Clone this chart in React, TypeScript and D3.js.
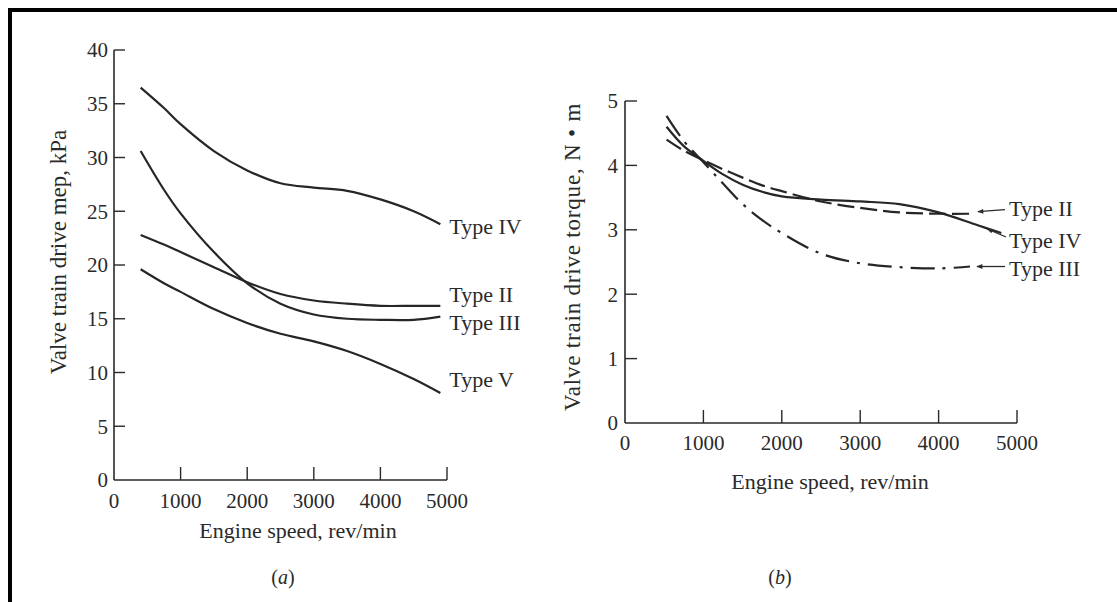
import React from "react";
import * as d3 from "d3";

// ---------- Data: panel (a) valve train drive mep, kPa ----------
const rpmA = [400, 750, 1000, 1500, 2000, 2500, 3000, 3500, 4000, 4500, 4900];
const mepTypeIV = [36.5, 34.6, 33.1, 30.6, 28.8, 27.6, 27.2, 26.9, 26.1, 25.0, 23.8];
const mepTypeII = [22.8, 21.9, 21.2, 19.8, 18.4, 17.3, 16.7, 16.4, 16.2, 16.2, 16.2];
const mepTypeIII = [30.6, 27.0, 24.8, 21.2, 18.3, 16.4, 15.4, 15.0, 14.9, 14.9, 15.2];
const mepTypeV = [19.6, 18.3, 17.5, 15.9, 14.6, 13.6, 12.9, 12.0, 10.8, 9.4, 8.1];

// ---------- Data: panel (b) valve train drive torque, N·m ----------
const rpmB_IV = [530, 750, 1000, 1250, 1500, 1750, 2000, 2500, 3000, 3500, 4000, 4500, 4800];
const torqueTypeIV = [4.6, 4.3, 4.07, 3.86, 3.7, 3.59, 3.52, 3.47, 3.44, 3.4, 3.27, 3.07, 2.95];
const rpmB_II = [530, 750, 1000, 1250, 1500, 1750, 2000, 2500, 3000, 3500, 4000, 4450];
const torqueTypeII = [4.4, 4.23, 4.08, 3.94, 3.81, 3.69, 3.6, 3.44, 3.34, 3.27, 3.25, 3.25];
const rpmB_III = [530, 750, 1000, 1250, 1500, 1750, 2000, 2500, 3000, 3500, 4000, 4400];
const torqueTypeIII = [4.77, 4.38, 4.05, 3.72, 3.4, 3.15, 2.95, 2.63, 2.48, 2.42, 2.4, 2.43];

const xTicks = [0, 1000, 2000, 3000, 4000, 5000];
const yTicksA = [0, 5, 10, 15, 20, 25, 30, 35, 40];
const yTicksB = [0, 1, 2, 3, 4, 5];

const FONT = "'Liberation Serif', 'DejaVu Serif', serif";
const INK = "#2a2a2a";
const LINE = "#262626";

type Pt = [number, number];
const zip = (xs: number[], ys: number[]): Pt[] => xs.map((x, i) => [x, ys[i]]);

export default function App() {
  const W = 1117;
  const H = 602;

  const xA = d3.scaleLinear().domain([0, 5000]).range([114, 447]);
  const yA = d3.scaleLinear().domain([0, 40]).range([480, 50]);
  const xB = d3.scaleLinear().domain([0, 5000]).range([625, 1017]);
  const yB = d3.scaleLinear().domain([0, 5]).range([423, 101]);

  const lineA = d3
    .line<Pt>()
    .x((d) => xA(d[0]))
    .y((d) => yA(d[1]))
    .curve(d3.curveCatmullRom.alpha(0.5));
  const lineB = d3
    .line<Pt>()
    .x((d) => xB(d[0]))
    .y((d) => yB(d[1]))
    .curve(d3.curveCatmullRom.alpha(0.5));

  const seriesA = [
    { name: "Type IV", pts: zip(rpmA, mepTypeIV), dy: 2 },
    { name: "Type II", pts: zip(rpmA, mepTypeII), dy: -12 },
    { name: "Type III", pts: zip(rpmA, mepTypeIII), dy: 6 },
    { name: "Type V", pts: zip(rpmA, mepTypeV), dy: -14 },
  ];

  const seriesB = [
    { name: "Type II", pts: zip(rpmB_II, torqueTypeII), dash: "17 6" },
    { name: "Type IV", pts: zip(rpmB_IV, torqueTypeIV), dash: "none" },
    { name: "Type III", pts: zip(rpmB_III, torqueTypeIII), dash: "24 8 3 8" },
  ];

  const tickFont = 21;
  const titleFont = 23;
  const labelFont = 22;

  const axisA = (
    <g>
      <line x1={xA(0)} y1={yA(0)} x2={xA(5000)} y2={yA(0)} stroke={INK} strokeWidth={1.6} />
      <line x1={xA(0)} y1={yA(0)} x2={xA(0)} y2={yA(40)} stroke={INK} strokeWidth={1.6} />
      {yTicksA.map((t) => (
        <g key={"ya" + t}>
          {t > 0 && <line x1={xA(0)} x2={xA(0) + 11} y1={yA(t)} y2={yA(t)} stroke={INK} strokeWidth={1.4} />}
          <text x={xA(0) - 6} y={yA(t)} dy="0.35em" textAnchor="end" fontSize={tickFont} fill={INK}>
            {t}
          </text>
        </g>
      ))}
      {xTicks.map((t) => (
        <g key={"xa" + t}>
          {t > 0 && <line x1={xA(t)} x2={xA(t)} y1={yA(0)} y2={yA(0) - 13} stroke={INK} strokeWidth={1.4} />}
          <text x={xA(t)} y={yA(0) + 28} textAnchor="middle" fontSize={tickFont} fill={INK}>
            {t}
          </text>
        </g>
      ))}
      <text x={298} y={538} textAnchor="middle" fontSize={titleFont - 1} fill={INK}>
        Engine speed, rev/min
      </text>
      <text transform={`translate(58, 252) rotate(-90)`} textAnchor="middle" dy="0.35em" fontSize={titleFont} fill={INK}>
        Valve train drive mep, kPa
      </text>
      <text x={283} y={584} textAnchor="middle" fontSize={20} fill={INK}>
        (<tspan fontStyle="italic">a</tspan>)
      </text>
    </g>
  );

  const axisB = (
    <g>
      <line x1={xB(0)} y1={yB(0)} x2={xB(5000)} y2={yB(0)} stroke={INK} strokeWidth={1.6} />
      <line x1={xB(0)} y1={yB(0)} x2={xB(0)} y2={yB(5)} stroke={INK} strokeWidth={1.6} />
      {yTicksB.map((t) => (
        <g key={"yb" + t}>
          {t > 0 && <line x1={xB(0)} x2={xB(0) + 12} y1={yB(t)} y2={yB(t)} stroke={INK} strokeWidth={1.4} />}
          <text x={xB(0) - 7} y={yB(t)} dy="0.35em" textAnchor="end" fontSize={tickFont} fill={INK}>
            {t}
          </text>
        </g>
      ))}
      {xTicks.map((t) => (
        <g key={"xb" + t}>
          {t > 0 && <line x1={xB(t)} x2={xB(t)} y1={yB(0)} y2={yB(0) - 13} stroke={INK} strokeWidth={1.4} />}
          <text x={xB(t)} y={yB(0) + 27} textAnchor="middle" fontSize={tickFont} fill={INK}>
            {t}
          </text>
        </g>
      ))}
      <text x={830} y={489} textAnchor="middle" fontSize={titleFont - 1} fill={INK}>
        Engine speed, rev/min
      </text>
      <text
        transform={`translate(572, 257) rotate(-90)`}
        textAnchor="middle"
        dy="0.35em"
        fontSize={titleFont}
        letterSpacing={0.8}
        fill={INK}
      >
        Valve train drive torque, N • m
      </text>
      <text x={780} y={584} textAnchor="middle" fontSize={20} fill={INK}>
        (<tspan fontStyle="italic">b</tspan>)
      </text>
    </g>
  );

  // annotation layout for panel b, anchored to the end of each line
  const annB = (name: string, pts: Pt[]) => {
    const last = pts[pts.length - 1];
    const ex = xB(last[0]);
    const ey = yB(last[1]);
    if (name === "Type II") return { tx: 1009, ty: ey - 5, ax1: 1005, ay1: ey - 4, ax2: ex + 4, ay2: ey - 2 };
    if (name === "Type IV") return { tx: 1009, ty: ey + 7, ax1: 1006, ay1: ey + 4, ax2: ex - 14, ay2: ey - 4 };
    return { tx: 1009, ty: ey + 2, ax1: 1005, ay1: ey, ax2: ex + 7, ay2: ey };
  };

  return (
    <svg
      width={W}
      height={H}
      viewBox={`0 0 ${W} ${H}`}
      style={{ position: "absolute", left: 0, top: 0, background: "#fff", fontFamily: FONT }}
    >
      <defs>
        <marker
          id="arrow"
          viewBox="0 0 10 10"
          refX="9"
          refY="5"
          markerWidth="9"
          markerHeight="6"
          markerUnits="userSpaceOnUse"
          orient="auto"
        >
          <path d="M0,1 L10,5 L0,9 z" fill={INK} />
        </marker>
      </defs>
      <rect x={0} y={0} width={W} height={H} fill="#fff" />
      <line x1={8} y1={10} x2={W} y2={10} stroke="#000" strokeWidth={4} />
      <line x1={10} y1={8} x2={10} y2={H} stroke="#000" strokeWidth={4} />

      {axisA}
      {seriesA.map((s) => {
        const last = s.pts[s.pts.length - 1];
        return (
          <g key={"a" + s.name}>
            <path d={lineA(s.pts) || ""} fill="none" stroke={LINE} strokeWidth={2.2} />
            <text x={xA(last[0]) + 9} y={yA(last[1]) + s.dy} dy="0.35em" fontSize={labelFont} fill={INK}>
              {s.name}
            </text>
          </g>
        );
      })}

      {axisB}
      {seriesB.map((s) => {
        const l = annB(s.name, s.pts);
        return (
          <g key={"b" + s.name}>
            <path
              d={lineB(s.pts) || ""}
              fill="none"
              stroke={LINE}
              strokeWidth={2.2}
              strokeDasharray={s.dash === "none" ? undefined : s.dash}
            />
            <line x1={l.ax1} y1={l.ay1} x2={l.ax2} y2={l.ay2} stroke={INK} strokeWidth={1.3} markerEnd="url(#arrow)" />
            <text x={l.tx} y={l.ty} dy="0.35em" fontSize={labelFont} fill={INK}>
              {s.name}
            </text>
          </g>
        );
      })}
    </svg>
  );
}
